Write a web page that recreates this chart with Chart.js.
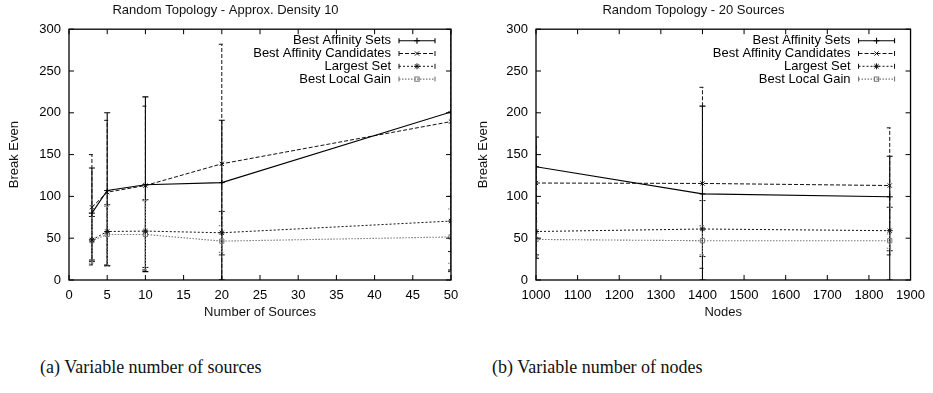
<!DOCTYPE html>
<html>
<head>
<meta charset="utf-8">
<script src="https://cdn.jsdelivr.net/npm/chart.js@4.4.1/dist/chart.umd.min.js"></script>
<style>
  body { margin: 0; background: #fff; width: 933px; height: 393px; overflow: hidden; position: relative; }
  .box { position: absolute; top: 0; height: 325px; }
  #boxA { left: 0; width: 470px; }
  #boxB { left: 470px; width: 463px; }
  .caption { position: absolute; top: 357px; font-family: "Liberation Serif", "DejaVu Serif", serif; font-size: 18px; color: #111; white-space: nowrap; }
</style>
</head>
<body>
<div class="box" id="boxA"><canvas id="chartA"></canvas></div>
<div class="box" id="boxB"><canvas id="chartB"></canvas></div>
<div class="caption" style="left:40px">(a) Variable number of sources</div>
<div class="caption" style="left:492px">(b) Variable number of nodes</div>
<script>
// shared legend labels
const seriesNames = ['Best Affinity Sets', 'Best Affinity Candidates', 'Largest Set', 'Best Local Gain'];

// (a) number of sources
const sources = [3, 5, 10, 20, 50];
const setsA = [80, 107, 114, 116.5, 201];
const setsALo = [24, 17, 10, 0, 12];
const setsAHi = [134, 200, 219, 191, 300];
const candA = [87, 105, 113, 139, 189.5];
const candALo = [18, 18, 12, 0, 34];
const candAHi = [150, 191, 208, 282, 300];
const largestA = [48, 58, 58.5, 56.5, 70.5];
const largestALo = [22, 17, 15, 30, 10];
const largestAHi = [76, 90, 96, 82, 100];
const localA = [47, 54.5, 54.5, 46.5, 51.5];
const localALo = [20, 18, 12, 33, 20];
const localAHi = [80, 88, 95, 65, 85];

// (b) number of nodes
const nodes = [1000, 1400, 1850];
const setsB = [135.5, 103, 99.5];
const setsBLo = [26, 0, 0];
const setsBHi = [171, 208, 148];
const candB = [116, 115.5, 113];
const candBLo = [70, 14, 30];
const candBHi = [160, 230.5, 182];
const largestB = [58, 61, 59];
const largestBLo = [30, 28, 35];
const largestBHi = [92, 95, 87];
const localB = [48.5, 47, 47];
const localBLo = [28, 30, 38];
const localBHi = [70, 65, 55];

const yTicks = [0, 50, 100, 150, 200, 250, 300];

const FONT = '"Liberation Sans", Arial, sans-serif';

const styles = [
  { color: '#000', dash: [], width: 1.1, point: 'cross' },
  { color: '#111', dash: [4, 2], width: 1, point: 'crossRot' },
  { color: '#111', dash: [2, 2], width: 1, point: 'star' },
  { color: '#777', dash: [1.5, 1.5], width: 1.1, point: 'rect' }
];

function makeDataset(i, xs, ys, lo, hi) {
  const s = styles[i];
  return {
    label: seriesNames[i],
    data: xs.map((x, k) => ({ x: x, y: ys[k] })),
    errLo: lo,
    errHi: hi,
    borderColor: s.color,
    backgroundColor: i === 2 ? s.color : 'rgba(0,0,0,0)',
    borderWidth: s.width,
    borderDash: s.dash,
    pointStyle: s.point,
    pointRadius: 3,
    pointBorderWidth: 1,
    pointBorderColor: s.color,
    pointBackgroundColor: i === 2 ? s.color : 'rgba(0,0,0,0)',
    tension: 0,
    fill: false
  };
}

// gnuplot-like error bars, frame with inward ticks, key in upper right
const gnuplotLook = {
  id: 'gnuplotLook',
  beforeDatasetsDraw(chart) {
    const ctx = chart.ctx;
    const ys = chart.scales.y;
    const a = chart.chartArea;
    ctx.save();
    ctx.beginPath();
    ctx.rect(a.left, a.top, a.right - a.left, a.bottom - a.top);
    ctx.clip();
    chart.data.datasets.forEach((ds, i) => {
      const meta = chart.getDatasetMeta(i);
      ctx.strokeStyle = ds.borderColor;
      ctx.lineWidth = ds.borderWidth;
      ctx.setLineDash(ds.borderDash);
      meta.data.forEach((pt, k) => {
        const y1 = ys.getPixelForValue(ds.errLo[k]);
        const y2 = ys.getPixelForValue(ds.errHi[k]);
        ctx.beginPath();
        ctx.moveTo(pt.x, y1); ctx.lineTo(pt.x, y2);
        ctx.moveTo(pt.x - 3, y1); ctx.lineTo(pt.x + 3, y1);
        ctx.moveTo(pt.x - 3, y2); ctx.lineTo(pt.x + 3, y2);
        ctx.stroke();
      });
    });
    ctx.restore();
  },
  afterDraw(chart) {
    const ctx = chart.ctx;
    const a = chart.chartArea;
    const xs = chart.scales.x;
    const ys = chart.scales.y;
    ctx.save();
    ctx.strokeStyle = '#000';
    ctx.lineWidth = 1.3;
    ctx.setLineDash([]);
    ctx.strokeRect(a.left, a.top, a.right - a.left, a.bottom - a.top);
    ctx.lineWidth = 1;
    ctx.beginPath();
    xs.ticks.forEach((t, k) => {
      const px = xs.getPixelForTick(k);
      ctx.moveTo(px, a.bottom); ctx.lineTo(px, a.bottom - 5);
      ctx.moveTo(px, a.top); ctx.lineTo(px, a.top + 5);
    });
    ys.ticks.forEach((t, k) => {
      const py = ys.getPixelForTick(k);
      ctx.moveTo(a.left, py); ctx.lineTo(a.left + 5, py);
      ctx.moveTo(a.right, py); ctx.lineTo(a.right - 5, py);
    });
    ctx.stroke();

    // key
    ctx.font = '13px ' + FONT;
    ctx.textAlign = 'right';
    ctx.textBaseline = 'middle';
    chart.data.datasets.forEach((ds, i) => {
      const y = a.top + 11.5 + i * 12.8;
      const x0 = a.right - 52, x1 = a.right - 16, xm = (x0 + x1) / 2;
      ctx.fillStyle = '#000';
      ctx.fillText(ds.label, a.right - 60, y);
      ctx.strokeStyle = ds.borderColor;
      ctx.lineWidth = ds.borderWidth;
      ctx.setLineDash(ds.borderDash);
      ctx.beginPath();
      ctx.moveTo(x0, y); ctx.lineTo(x1, y);
      ctx.stroke();
      ctx.setLineDash([]);
      ctx.beginPath();
      ctx.moveTo(x0, y - 2.5); ctx.lineTo(x0, y + 2.5);
      ctx.moveTo(x1, y - 2.5); ctx.lineTo(x1, y + 2.5);
      ctx.stroke();
      ctx.fillStyle = ds.pointBackgroundColor;
      ctx.strokeStyle = ds.pointBorderColor;
      Chart.helpers.drawPoint(ctx, { pointStyle: ds.pointStyle, radius: 3, borderWidth: 1 }, xm, y);
    });
    ctx.restore();
  }
};

function makeChart(id, title, xTitle, xMin, xMax, xStep, datasets, yWidth, rightPad, yTitlePad) {
  return new Chart(document.getElementById(id), {
    type: 'line',
    data: { datasets: datasets },
    plugins: [gnuplotLook],
    options: {
      responsive: true,
      maintainAspectRatio: false,
      animation: false,
      layout: { padding: { left: 0, right: rightPad, top: 0, bottom: 0 } },
      plugins: {
        legend: { display: false },
        tooltip: { enabled: false },
        title: {
          display: true,
          text: title,
          color: '#111',
          font: { family: FONT, size: 13, weight: 'normal' },
          padding: { top: 3, bottom: 10.6 }
        }
      },
      scales: {
        x: {
          type: 'linear',
          min: xMin,
          max: xMax,
          grid: { display: false, drawTicks: false },
          border: { display: false },
          ticks: {
            stepSize: xStep, color: '#000', padding: 8, maxRotation: 0,
            font: { family: FONT, size: 13 },
            callback: v => String(v)
          },
          title: { display: true, text: xTitle, color: '#111', font: { family: FONT, size: 13 }, padding: { top: 0, bottom: 5 } },
          afterFit(scale) { scale.height = 45; }
        },
        y: {
          min: 0,
          max: 300,
          afterBuildTicks(scale) { scale.ticks = yTicks.map(v => ({ value: v })); },
          grid: { display: false, drawTicks: false },
          border: { display: false },
          ticks: { color: '#000', padding: 8, font: { family: FONT, size: 13 } },
          title: { display: true, text: 'Break Even', color: '#111', font: { family: FONT, size: 13 }, padding: { top: yTitlePad, bottom: 0 } },
          afterFit(scale) { scale.width = yWidth; }
        }
      }
    }
  });
}

makeChart('chartA', 'Random Topology - Approx. Density 10', 'Number of Sources', 0, 50, 5, [
  makeDataset(0, sources, setsA, setsALo, setsAHi),
  makeDataset(1, sources, candA, candALo, candAHi),
  makeDataset(2, sources, largestA, largestALo, largestAHi),
  makeDataset(3, sources, localA, localALo, localAHi)
], 69, 19, 7);

makeChart('chartB', 'Random Topology - 20 Sources', 'Nodes', 1000, 1900, 100, [
  makeDataset(0, nodes, setsB, setsBLo, setsBHi),
  makeDataset(1, nodes, candB, candBLo, candBHi),
  makeDataset(2, nodes, largestB, largestBLo, largestBHi),
  makeDataset(3, nodes, localB, localBLo, localBHi)
], 66, 16, 5.5);
</script>
</body>
</html>
